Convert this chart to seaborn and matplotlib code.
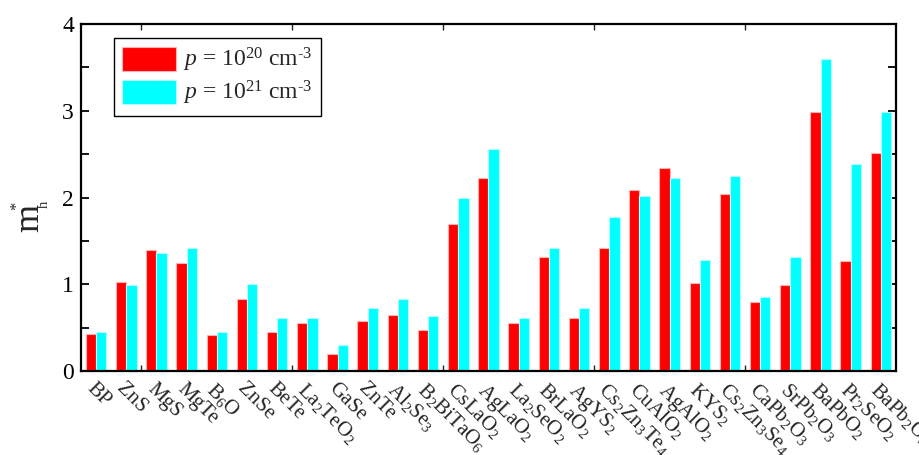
import matplotlib
matplotlib.use("Agg")
import matplotlib.pyplot as plt
from matplotlib.ticker import MultipleLocator, FixedLocator
import seaborn as sns
import pandas as pd

categories = ["BP", "ZnS", "MgS", "MgTe", "B$_6$O", "ZnSe", "BeTe", "La$_2$TeO$_2$",
              "GaSe", "ZnTe", "Al$_2$Se$_3$", "B$_2$BiTaO$_6$", "CsLaO$_2$", "AgLaO$_2$",
              "La$_2$SeO$_2$", "BrLaO$_2$", "AgYS$_2$", "Cs$_2$Zn$_3$Te$_4$", "CuAlO$_2$",
              "AgAlO$_2$", "KYS$_2$", "Cs$_2$Zn$_3$Se$_4$", "CaPb$_2$O$_3$", "SrPb$_2$O$_3$",
              "BaPbO$_2$", "Pr$_2$SeO$_2$", "BaPb$_2$O$_3$"]
p20 = [0.43, 1.03, 1.39, 1.25, 0.41, 0.83, 0.45, 0.55, 0.20, 0.58, 0.65, 0.47, 1.70, 2.23,
       0.55, 1.31, 0.61, 1.42, 2.09, 2.34, 1.02, 2.04, 0.79, 0.99, 2.98, 1.27, 2.51]
p21 = [0.45, 0.99, 1.36, 1.42, 0.45, 1.00, 0.61, 0.61, 0.30, 0.73, 0.83, 0.63, 1.99, 2.56,
       0.61, 1.42, 0.73, 1.78, 2.02, 2.22, 1.28, 2.25, 0.85, 1.31, 3.60, 2.39, 2.99]
series = ["$p$ = 10$^{20}$ cm$^{\u2010 3}$", "$p$ = 10$^{21}$ cm$^{\u2010 3}$"]
colors = ["#ff0000", "#00ffff"]

df = pd.DataFrame({
    "material": categories * 2,
    "value": p20 + p21,
    "series": [series[0]] * len(categories) + [series[1]] * len(categories),
})

sns.set_theme(style="ticks")
plt.rcParams["font.family"] = ["Liberation Serif", "DejaVu Serif"]
plt.rcParams["mathtext.fontset"] = "custom"
plt.rcParams["mathtext.rm"] = "Liberation Serif"
plt.rcParams["mathtext.it"] = "Liberation Serif:italic"
plt.rcParams["mathtext.bf"] = "Liberation Serif:bold"

fig = plt.figure(figsize=(9.19, 4.55), dpi=100)
ax = fig.add_axes([81 / 919, 84 / 455, 815 / 919, 347 / 455])

sns.barplot(data=df, x="material", y="value", hue="series", hue_order=series,
            palette=colors, saturation=1, width=0.68, gap=0, ax=ax, legend=True)

light = {"#ff0000": "#ffb3b3", "#00ffff": "#b3ffff"}
for bar in ax.patches:
    fc = matplotlib.colors.to_hex(bar.get_facecolor())
    if fc in light:
        bar.set_edgecolor(light[fc])
        bar.set_linewidth(0.8)

ax.set_xlim(-0.5, len(categories) - 0.5)
ax.set_ylim(0, 4)
ax.yaxis.set_major_locator(MultipleLocator(1))
ax.yaxis.set_minor_locator(MultipleLocator(0.5))
ax.xaxis.set_minor_locator(FixedLocator([1.5 + 2.5 * k for k in range(10)]))

ax.set_xlabel("")
ax.set_ylabel("")
# y-axis label m_h^* built from pieces (Origin-style small sub/superscript)
fig.text(38 / 919, 1 - 218 / 455, "m", rotation=90, rotation_mode="anchor",
         ha="center", va="baseline", fontsize=26)
fig.text(47.5 / 919, 1 - 204 / 455, "h", rotation=90, rotation_mode="anchor",
         ha="center", va="baseline", fontsize=10.5)
fig.text(21 / 919, 1 - 206 / 455, "*", rotation=90, rotation_mode="anchor",
         ha="center", va="baseline", fontsize=12)

ax.tick_params(axis="y", which="both", direction="in", left=True, right=True,
               length=6, width=1.3, labelsize=17, colors="black", pad=5)
ax.tick_params(axis="x", which="major", length=0, labelsize=15, pad=6)
ax.tick_params(axis="x", which="minor", direction="in", top=True, bottom=True,
               length=4, width=1.0)
for lab in ax.get_xticklabels():
    lab.set_rotation(-45)
    lab.set_ha("left")
    lab.set_va("top")
    lab.set_rotation_mode("anchor")

for s in ax.spines.values():
    s.set_visible(True)
    s.set_linewidth(1.6)
    s.set_color("black")

leg = ax.legend(loc="upper left", bbox_to_anchor=(0.04, 0.96), fontsize=17,
                frameon=True, fancybox=False, edgecolor="black", framealpha=1,
                handlelength=2.3, handleheight=1.2, borderpad=0.35,
                labelspacing=0.2, handletextpad=0.3, borderaxespad=0)
leg.get_frame().set_linewidth(1.0)

fig.savefig("out.png", dpi=100)
